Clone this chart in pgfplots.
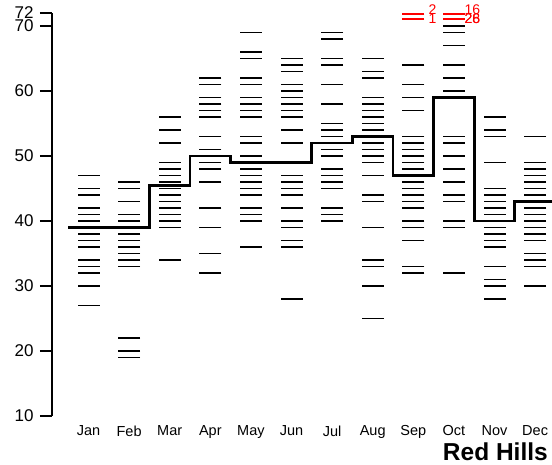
\documentclass[border=0pt]{standalone}
\usepackage{pgfplots}
\pgfplotsset{compat=1.18}
\usepackage{pgfplotstable}
\usepackage{fontspec}
\setmainfont{Liberation Sans}

% month index, value
\pgfplotstableread{
m v
1 47
1 45
1 44
1 42
1 41
1 40
1 38
1 37
1 36
1 34
1 33
1 32
1 30
1 27
2 46
2 45
2 43
2 41
2 40
2 38
2 37
2 36
2 35
2 34
2 33
2 22
2 20
2 19
3 56
3 54
3 52
3 49
3 48
3 47
3 46
3 45
3 44
3 43
3 42
3 41
3 40
3 39
3 34
4 62
4 61
4 59
4 58
4 57
4 56
4 53
4 51
4 49
4 48
4 46
4 42
4 39
4 35
4 32
5 69
5 66
5 65
5 62
5 61
5 59
5 58
5 57
5 56
5 53
5 52
5 50
5 48
5 47
5 46
5 45
5 44
5 42
5 41
5 40
5 36
6 65
6 64
6 63
6 61
6 60
6 59
6 58
6 57
6 56
6 54
6 52
6 47
6 46
6 45
6 44
6 42
6 40
6 39
6 37
6 36
6 28
7 69
7 68
7 65
7 64
7 61
7 58
7 55
7 54
7 53
7 51
7 50
7 48
7 47
7 46
7 45
7 42
7 41
7 40
8 65
8 63
8 62
8 59
8 58
8 57
8 56
8 55
8 54
8 52
8 51
8 50
8 49
8 47
8 44
8 43
8 39
8 34
8 33
8 30
8 25
9 64
9 61
9 59
9 57
9 53
9 52
9 51
9 50
9 49
9 48
9 46
9 45
9 44
9 43
9 42
9 40
9 39
9 37
9 33
9 32
10 70
10 69
10 67
10 64
10 62
10 60
10 53
10 52
10 50
10 48
10 46
10 44
10 43
10 40
10 39
10 32
11 56
11 54
11 53
11 49
11 45
11 44
11 43
11 42
11 41
11 39
11 38
11 37
11 36
11 33
11 31
11 30
11 28
12 53
12 49
12 48
12 47
12 46
12 45
12 44
12 42
12 41
12 40
12 39
12 38
12 37
12 35
12 34
12 33
12 30
}\dashdata

\begin{document}
\begin{tikzpicture}
\useasboundingbox (0,0) rectangle (552pt,464pt);
\begin{axis}[
  at={(52pt,48pt)}, anchor=south west,
  scale only axis, width=500pt, height=403pt,
  xmin=0.101, xmax=12.416, ymin=10, ymax=72,
  axis lines*=left,
  x axis line style={draw=none},
  y axis line style={line width=1.8pt},
  xtick={1,...,12},
  xticklabels={Jan,Feb,Mar,Apr,May,Jun,Jul,Aug,Sep,Oct,Nov,Dec},
  xtick style={draw=none},
  ytick={10,20,30,40,50,60,70,72},
  ytick style={line width=1.6pt, black},
  major tick length=12pt,
  tick align=outside,
  /pgf/number format/assume math mode=true,
  yticklabel style={font=\fontsize{17}{17}\selectfont, xshift=-3pt},
  xticklabel style={font=\fontsize{14.5}{14.5}\selectfont, yshift=6pt},
  clip=false,
]
\addplot[only marks, mark=-, mark size=11pt, black, mark options={line width=1.9pt}]
  table[x=m, y=v] {\dashdata};
\addplot[const plot, line width=2.8pt, black] coordinates {
  (0.5,39) (1.5,39) (2.5,45.5) (3.5,50) (4.5,49) (5.5,49) (6.5,52)
  (7.5,53) (8.5,47) (9.5,59) (10.5,40) (11.5,43) (12.416,43)};
% off-scale values in red
\addplot[only marks, mark=-, mark size=11pt, red, mark options={line width=1.6pt},
  point meta=explicit symbolic, nodes near coords,
  nodes near coords style={anchor=west, inner sep=0pt, xshift=14.5pt, yshift=4pt,
    text=red, font=\fontsize{14}{14}\selectfont}]
  table[meta=l, row sep=\\] {x y l\\ 9 71.86 2\\};
\addplot[only marks, mark=-, mark size=11pt, red, mark options={line width=1.6pt},
  point meta=explicit symbolic, nodes near coords,
  nodes near coords style={anchor=west, inner sep=0pt, xshift=14.5pt,
    text=red, font=\fontsize{14}{14}\selectfont}]
  table[meta=l, row sep=\\] {x y l\\ 9 71.09 1\\};
\addplot[only marks, mark=-, mark size=11pt, red, mark options={line width=1.6pt},
  point meta=explicit symbolic, nodes near coords,
  nodes near coords style={anchor=west, inner sep=0pt, xshift=10pt, yshift=4pt,
    text=red, font=\fontsize{14}{14}\selectfont}]
  table[meta=l, row sep=\\] {x y l\\ 10 71.86 16\\};
\addplot[only marks, mark=-, mark size=11pt, red, mark options={line width=1.6pt},
  point meta=explicit symbolic, nodes near coords,
  nodes near coords style={anchor=west, inner sep=0pt, xshift=10pt,
    text=red, font=\fontsize{14}{14}\selectfont}]
  table[meta=l, row sep=\\] {x y l\\ 10 71.09 26\\ 10 71.09 28\\};
\end{axis}
\node[anchor=base east, inner sep=0pt, font=\bfseries\fontsize{24.5}{24.5}\selectfont] at (548pt,4pt) {Red Hills};
\end{tikzpicture}
\end{document}
